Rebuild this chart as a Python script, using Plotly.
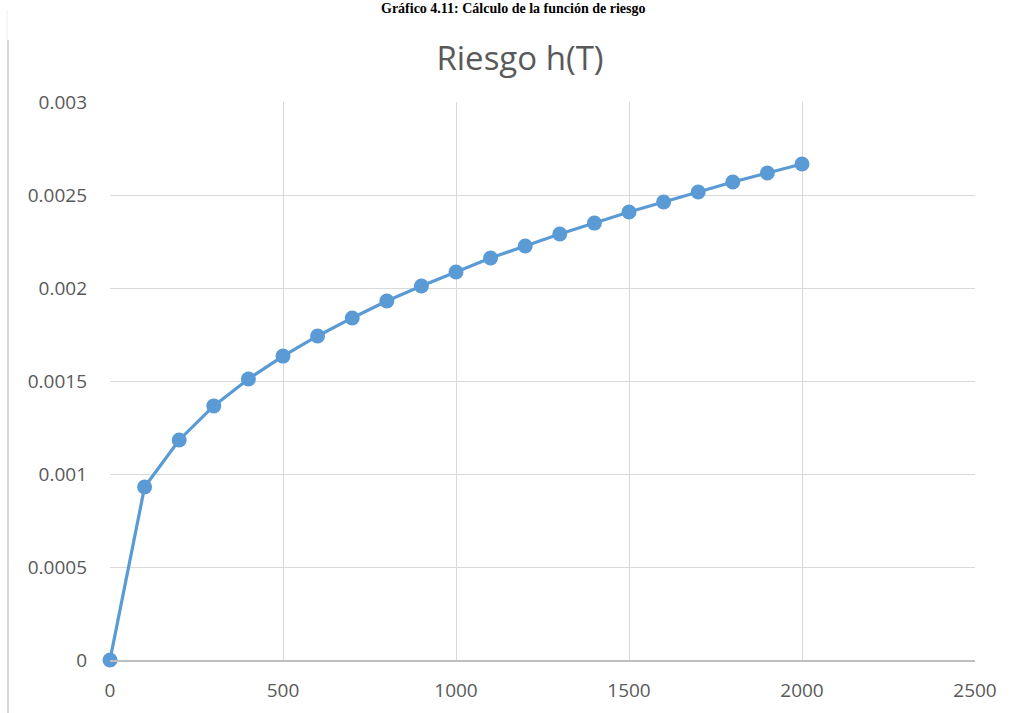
import plotly.graph_objects as go

T = [0, 100, 200, 300, 400, 500, 600, 700, 800, 900, 1000,
     1100, 1200, 1300, 1400, 1500, 1600, 1700, 1800, 1900, 2000]
riesgo = [0, 0.00093, 0.001183, 0.001366, 0.001511, 0.001634, 0.001742,
          0.001839, 0.00193, 0.002011, 0.002086, 0.002161, 0.002226,
          0.00229, 0.002349, 0.002409, 0.002462, 0.002516, 0.00257,
          0.002618, 0.002667]
x_ticks = [0, 500, 1000, 1500, 2000, 2500]
y_ticks = [0, 0.0005, 0.001, 0.0015, 0.002, 0.0025, 0.003]
y_labels = ["0", "0.0005", "0.001", "0.0015", "0.002", "0.0025", "0.003"]

blue = "#5b9bd5"
font_fam = "Open Sans, sans-serif"
W, H = 1020, 713
L, R, Tm, B = 110, 45, 102, 53
PW, PH = W - L - R, H - Tm - B

fig = go.Figure()
fig.add_trace(go.Scatter(
    x=T, y=riesgo, mode="lines+markers",
    line=dict(color=blue, width=3.2),
    marker=dict(color=blue, size=15),
    showlegend=False, cliponaxis=False,
))

fig.update_layout(
    template="none",
    width=W, height=H,
    margin=dict(l=L, r=R, t=Tm, b=B, autoexpand=False),
    paper_bgcolor="white", plot_bgcolor="white",
    title=dict(text="Riesgo h(T)", x=520 / W, xanchor="center",
               y=1 - 58 / H, yanchor="middle", automargin=False,
               font=dict(family=font_fam, size=33, color="#595959")),
    font=dict(family=font_fam, size=20, color="#595959"),
    hovermode=False,
)
fig.update_xaxes(
    range=[0, 2500], tickvals=x_ticks, ticktext=[str(v) for v in x_ticks],
    showgrid=True, gridcolor="#d9d9d9", gridwidth=1.3,
    showline=True, linecolor="#bfbfbf", linewidth=1.5,
    zeroline=False, ticks="", ticklabelstandoff=12, automargin=False,
    tickfont=dict(family=font_fam, size=19, color="#595959"),
)
fig.update_yaxes(
    range=[0, 0.003], tickvals=y_ticks, ticktext=y_labels,
    showgrid=True, gridcolor="#d9d9d9", gridwidth=1.3,
    showline=False, zeroline=False, ticks="", ticklabelstandoff=22, automargin=False,
    tickfont=dict(family=font_fam, size=19, color="#595959"),
)

# caption at the very top of the page
fig.add_annotation(
    text="<b>Gráfico 4.11: Cálculo de la función de riesgo</b>",
    xref="paper", yref="paper", x=(513 - L) / PW, y=1 + Tm / PH,
    xanchor="center", yanchor="top", yshift=1,
    showarrow=False,
    font=dict(family="Liberation Serif, DejaVu Serif, serif", size=14, color="black"),
)

# thin frame line on the left
fig.add_shape(type="line", xref="paper", yref="paper",
              x0=-(L - 8) / PW, x1=-(L - 8) / PW, y0=-B / PH - 0.05, y1=1 + (Tm - 40) / PH,
              line=dict(color="#d6d6d6", width=2))
fig.add_shape(type="line", xref="paper", yref="paper",
              x0=-(L - 7) / PW, x1=-(L - 7) / PW, y0=1 + (Tm - 40) / PH, y1=1 + (Tm - 10) / PH,
              line=dict(color="#eeeeee", width=1))

fig.write_html(
    "out.html",
    config={"displayModeBar": False},
    post_script="document.body.style.margin='0';document.body.style.overflow='hidden';"
                "document.documentElement.style.overflow='hidden';",
)
